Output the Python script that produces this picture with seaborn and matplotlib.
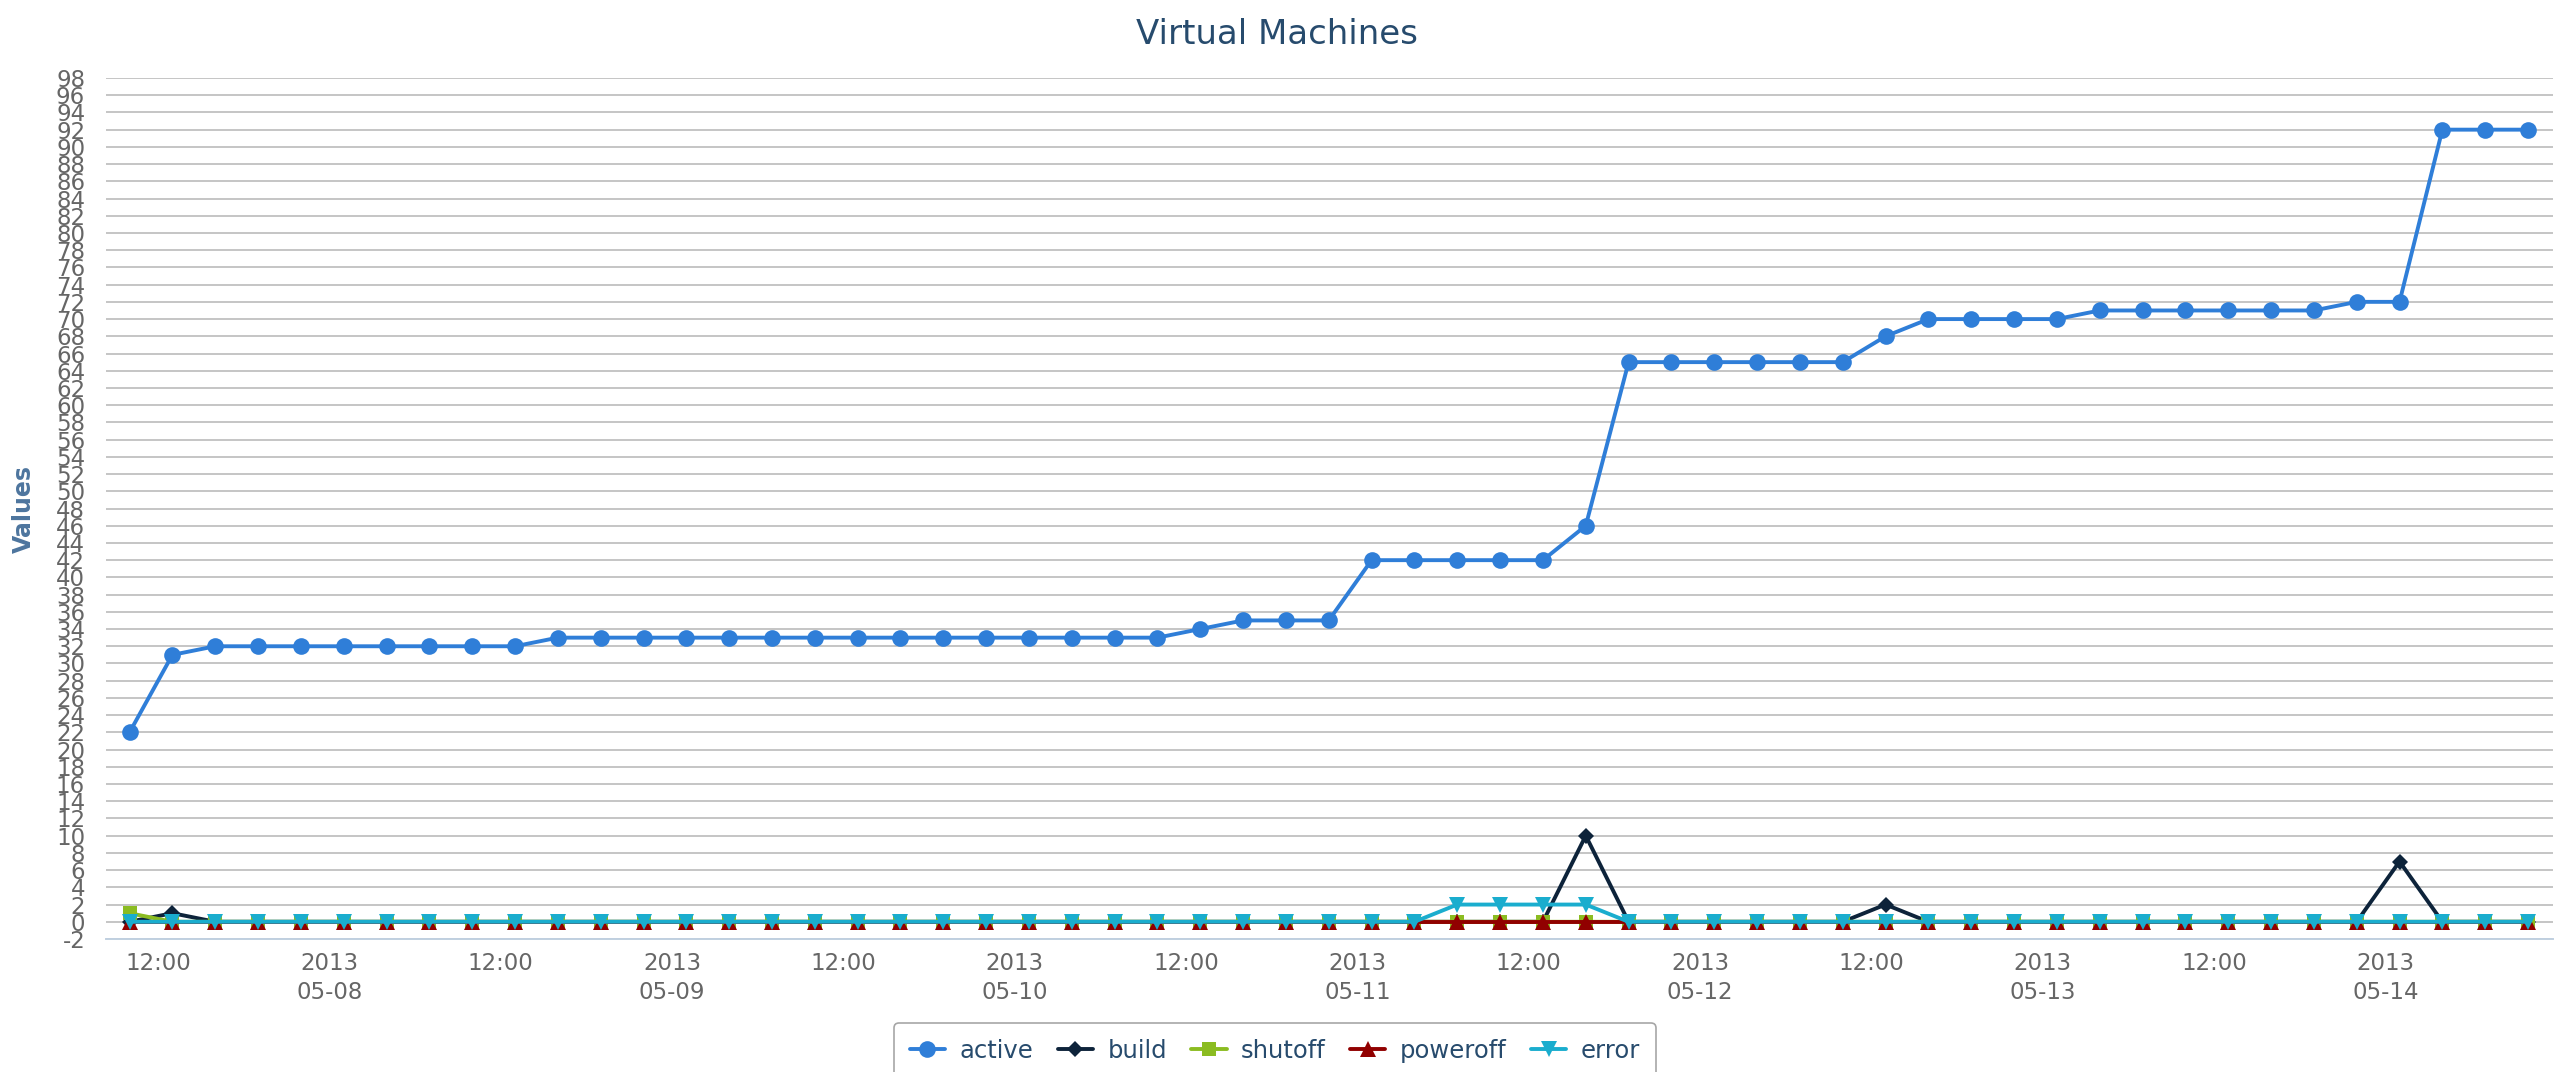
import numpy as np
import pandas as pd
import matplotlib
matplotlib.use("Agg")
import matplotlib.pyplot as plt
import matplotlib.dates as mdates
import seaborn as sns

# ==============================================================================
# DATOS: una muestra cada 3 horas, 2013-05-07 10:00 -> 2013-05-14 10:00
# (cada fila = un día de 8 muestras)
# ==============================================================================
tiempos = pd.date_range("2013-05-07 10:00", "2013-05-14 10:00", freq="3h")

active = [22, 31, 32, 32, 32, 32, 32, 32,
          32, 32, 33, 33, 33, 33, 33, 33,
          33, 33, 33, 33, 33, 33, 33, 33,
          33, 34, 35, 35, 35, 42, 42, 42,
          42, 42, 46, 65, 65, 65, 65, 65,
          65, 68, 70, 70, 70, 70, 71, 71,
          71, 71, 71, 71, 72, 72, 92, 92,
          92]

build = [0, 1, 0, 0, 0, 0, 0, 0,
         0, 0, 0, 0, 0, 0, 0, 0,
         0, 0, 0, 0, 0, 0, 0, 0,
         0, 0, 0, 0, 0, 0, 0, 0,
         0, 0, 10, 0, 0, 0, 0, 0,
         0, 2, 0, 0, 0, 0, 0, 0,
         0, 0, 0, 0, 0, 7, 0, 0,
         0]

shutoff = [1, 0, 0, 0, 0, 0, 0, 0,
           0, 0, 0, 0, 0, 0, 0, 0,
           0, 0, 0, 0, 0, 0, 0, 0,
           0, 0, 0, 0, 0, 0, 0, 0,
           0, 0, 0, 0, 0, 0, 0, 0,
           0, 0, 0, 0, 0, 0, 0, 0,
           0, 0, 0, 0, 0, 0, 0, 0,
           0]

poweroff = [0, 0, 0, 0, 0, 0, 0, 0,
            0, 0, 0, 0, 0, 0, 0, 0,
            0, 0, 0, 0, 0, 0, 0, 0,
            0, 0, 0, 0, 0, 0, 0, 0,
            0, 0, 0, 0, 0, 0, 0, 0,
            0, 0, 0, 0, 0, 0, 0, 0,
            0, 0, 0, 0, 0, 0, 0, 0,
            0]

error = [0, 0, 0, 0, 0, 0, 0, 0,
         0, 0, 0, 0, 0, 0, 0, 0,
         0, 0, 0, 0, 0, 0, 0, 0,
         0, 0, 0, 0, 0, 0, 0, 2,
         2, 2, 2, 0, 0, 0, 0, 0,
         0, 0, 0, 0, 0, 0, 0, 0,
         0, 0, 0, 0, 0, 0, 0, 0,
         0]

nombres_series = ["active", "build", "shutoff", "poweroff", "error"]
valores_series = [active, build, shutoff, poweroff, error]

# Ejes
ticks_x = pd.date_range("2013-05-07 12:00", "2013-05-14 00:00", freq="12h")
etiquetas_x = ["12:00" if t.hour == 12 else t.strftime("%Y\n%m-%d") for t in ticks_x]
ticks_y = list(range(-2, 99, 2))

# Estilo tipo Highcharts
colores = ["#2f7ed8", "#0d233a", "#8bbc21", "#910000", "#1aadce"]
marcadores = ["o", "D", "s", "^", "v"]
tam_marcadores = [12, 8.5, 10, 11.5, 11.5]


def dibujar_grafico():
    sns.set_style("white")
    plt.rcParams["font.family"] = ["DejaVu Sans"]

    fig = plt.figure(figsize=(25.66, 10.72), dpi=100)
    W, H = 2566, 1072
    izq, der, arriba, abajo = 106, 2553, 78, 939
    ax = fig.add_axes([izq / W, 1 - abajo / H, (der - izq) / W, (abajo - arriba) / H])

    # una llamada por serie: la última queda encima (como en Highcharts)
    for nombre, valores, color, marcador, tam in zip(nombres_series, valores_series,
                                                    colores, marcadores, tam_marcadores):
        sns.lineplot(x=tiempos, y=valores, ax=ax, color=color, marker=marcador,
                     markersize=tam, markeredgewidth=0, linewidth=2.8,
                     errorbar=None, label=nombre)

    ax.set_xlim(tiempos[0] - pd.Timedelta(hours=1.65), tiempos[-1] + pd.Timedelta(hours=1.75))
    ax.set_ylim(-2, 98)
    ax.set_yticks(ticks_y)
    ax.set_yticklabels([str(v) for v in ticks_y])
    ax.set_xticks(mdates.date2num(ticks_x.to_pydatetime()))
    ax.set_xticklabels(etiquetas_x, linespacing=1.3)
    ax.set_xlabel("")
    ax.set_ylabel("")

    # rejilla horizontal y línea del eje x
    ax.set_axisbelow(True)
    ax.grid(axis="y", color="#C0C0C0", linewidth=1.3)
    ax.grid(axis="x", visible=False)
    for lado in ["left", "right", "top"]:
        ax.spines[lado].set_visible(False)
    ax.spines["bottom"].set_color("#C0D0E0")
    ax.spines["bottom"].set_linewidth(1.4)

    ax.tick_params(axis="y", length=0, pad=15, labelsize=16.5, labelcolor="#666666")
    ax.tick_params(axis="x", length=8.5, width=1.4, color="#C0D0E0", pad=1,
                   labelsize=16.5, labelcolor="#666666")

    fig.text(0.4975, 1 - 34 / H, "Virtual Machines", ha="center", va="center",
             fontsize=24.5, color="#274b6d")
    fig.text(23.5 / W, 1 - 509 / H, "Values", ha="center", va="center", rotation=90,
             fontsize=17, fontweight="bold", color="#4d759e")

    # leyenda abajo, cortada por el borde de la imagen como en el original
    leyenda = ax.legend(loc="upper center", bbox_to_anchor=(1275 / W, 1 - 1023 / H),
                        bbox_transform=fig.transFigure, borderaxespad=0, ncol=5,
                        frameon=True, fancybox=True, edgecolor="#909090", fontsize=17.5,
                        handlelength=1.45, handletextpad=0.6, columnspacing=1.0,
                        borderpad=0.65, labelcolor="#274b6d", numpoints=1)
    leyenda.get_frame().set_linewidth(1.2)

    fig.savefig("out.png", dpi=100, facecolor="white")
    plt.close(fig)


if __name__ == "__main__":
    dibujar_grafico()
